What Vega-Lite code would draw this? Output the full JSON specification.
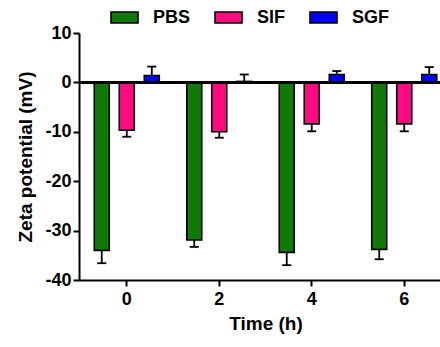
{
  "$schema": "https://vega.github.io/schema/vega-lite/v6.json",
  "autosize": {"type": "none"},
  "padding": {"left": 79, "top": 33, "right": 0, "bottom": 67},
  "width": 361,
  "height": 247,
  "background": "white",
  "config": {
    "font": "Liberation Sans",
    "view": {"stroke": null},
    "axis": {
      "domainColor": "black", "domainWidth": 2, "tickColor": "black", "tickWidth": 2,
      "tickSize": 6, "labelColor": "black", "labelFontSize": 18, "labelFontWeight": "bold",
      "titleColor": "black", "titleFontSize": 19, "titleFontWeight": "bold", "grid": false
    }
  },
  "data": {
    "values": [
      {"t": "0", "g": "PBS", "v": -34.0, "e": -36.6},
      {"t": "0", "g": "SIF", "v": -9.7, "e": -11.0},
      {"t": "0", "g": "SGF", "v": 1.4, "e": 3.2},
      {"t": "2", "g": "PBS", "v": -31.9, "e": -33.3},
      {"t": "2", "g": "SIF", "v": -10.0, "e": -11.2},
      {"t": "2", "g": "SGF", "v": 0.2, "e": 1.6},
      {"t": "4", "g": "PBS", "v": -34.4, "e": -37.0},
      {"t": "4", "g": "SIF", "v": -8.4, "e": -9.9},
      {"t": "4", "g": "SGF", "v": 1.6, "e": 2.3},
      {"t": "6", "g": "PBS", "v": -33.8, "e": -35.8},
      {"t": "6", "g": "SIF", "v": -8.4, "e": -9.9},
      {"t": "6", "g": "SGF", "v": 1.6, "e": 3.1}
    ]
  },
  "encoding": {
    "x": {
      "field": "t", "type": "nominal", "sort": ["0", "2", "4", "6"],
      "scale": {"range": [0, 373], "paddingInner": 0.297, "paddingOuter": 0.165},
      "axis": {"title": "Time (h)", "labelAngle": 0, "labelPadding": 4, "titlePadding": 6}
    },
    "xOffset": {
      "field": "g", "type": "nominal", "sort": ["PBS", "SIF", "SGF"],
      "scale": {"paddingInner": 0.4, "paddingOuter": 0}
    }
  },
  "layer": [
    {
      "mark": {"type": "rule", "stroke": "black", "strokeWidth": 1.8},
      "encoding": {
        "y": {"field": "v", "type": "quantitative"},
        "y2": {"field": "e"}
      }
    },
    {
      "mark": {"type": "tick", "orient": "horizontal", "color": "black", "size": 9, "thickness": 1.8, "opacity": 1},
      "encoding": {
        "y": {"field": "e", "type": "quantitative"}
      }
    },
    {
      "mark": {"type": "bar", "stroke": "black", "strokeWidth": 1.6},
      "encoding": {
        "y": {
          "field": "v", "type": "quantitative",
          "scale": {"domain": [-40, 10], "nice": false, "zero": false},
          "axis": {"values": [-40, -30, -20, -10, 0, 10], "title": "Zeta potential (mV)",
                   "labelExpr": "replace(datum.label, '\u2212', '-')", "labelPadding": 2, "titlePadding": 9}
        },
        "color": {
          "field": "g", "type": "nominal", "sort": ["PBS", "SIF", "SGF"],
          "scale": {"domain": ["PBS", "SIF", "SGF"], "range": ["#0f7a05", "#ff0a80", "#0000ff"]},
          "legend": {
            "title": null, "orient": "none", "direction": "horizontal", "legendX": 31, "legendY": -30,
            "symbolType": "M-1,-0.41H1V0.41H-1Z", "symbolSize": 729, "symbolStrokeColor": "black",
            "symbolStrokeWidth": 1.6, "symbolOpacity": 1, "labelFontSize": 18, "labelFontWeight": "bold",
            "labelColor": "black", "labelOffset": 14, "columnPadding": 20, "gridAlign": "none", "padding": 0
          }
        }
      }
    },
    {
      "mark": {"type": "rule", "stroke": "black", "strokeWidth": 2},
      "encoding": {
        "y": {"datum": 0, "type": "quantitative"},
        "x": {"value": 0},
        "x2": {"value": 373},
        "xOffset": null
      }
    }
  ]
}
